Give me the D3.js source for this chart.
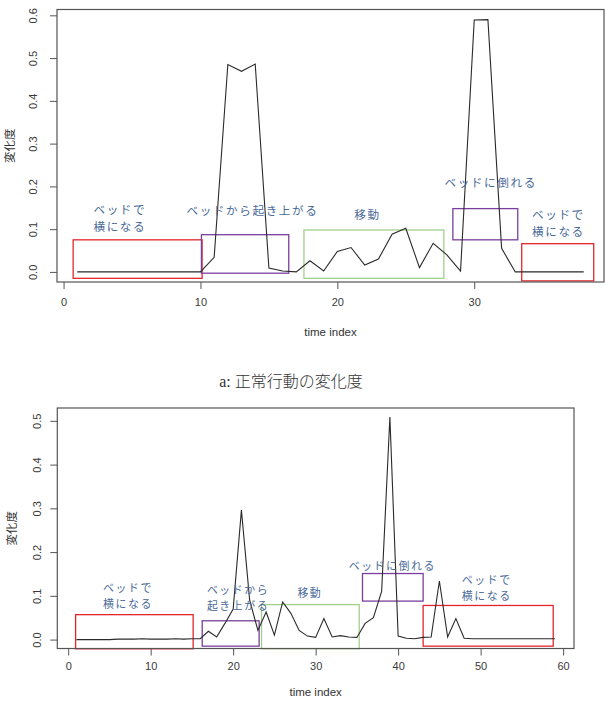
<!DOCTYPE html>
<html>
<head>
<meta charset="utf-8">
<script src="https://cdn.jsdelivr.net/npm/d3@7"></script>
<style>
  body { margin: 0; background: #fff; }
  svg { display: block; }
  .tick text { font-family: 'Liberation Sans', Arial, sans-serif; font-size: 11px; fill: #3a3a3a; }
  .tick line { stroke: #555; }
  .lbl { font-family: 'Noto Sans CJK JP', sans-serif; fill: #4a6a98; letter-spacing: 1.6px; }
</style>
</head>
<body>
<svg id="chart"></svg>
<script>
var width = 605,
    height = 707;

// a: normal behaviour (top), time index 1..38
var topValues = [0, 0, 0, 0, 0, 0, 0, 0, 0, 0,
  0.034, 0.485, 0.469, 0.486, 0.009, 0.002, 0.0, 0.026, 0.002, 0.048,
  0.057, 0.016, 0.030, 0.088, 0.102, 0.010, 0.067, 0.040, 0.002, 0.589,
  0.590, 0.055, 0, 0, 0, 0, 0, 0];
var topYTicks = [0, 0.1, 0.2, 0.3, 0.4, 0.5, 0.6];
var topXTicks = [0, 10, 20, 30];

// bottom panel, time index 1..59
var botValues = [0, 0, 0, 0, 0, 0.001, 0.001, 0.001, 0.002, 0.001,
  0.001, 0.001, 0.002, 0.001, 0.002, 0.002, 0.019, 0.006, 0.037, 0.070,
  0.296, 0.090, 0.021, 0.063, 0.010, 0.086, 0.060, 0.021, 0.008, 0.005,
  0.048, 0.006, 0.009, 0.006, 0.005, 0.037, 0.050, 0.110, 0.509, 0.008,
  0.003, 0.002, 0.005, 0.006, 0.134, 0.006, 0.048, 0.003, 0.002, 0.002,
  0.002, 0.002, 0.002, 0.002, 0.002, 0.002, 0.002, 0.002, 0.002];
var botYTicks = [0, 0.1, 0.2, 0.3, 0.4, 0.5];
var botXTicks = [0, 10, 20, 30, 40, 50, 60];

// activity regions: [x0, x1, y0, y1, kind]
var topRegions = [
  [0.70, 10.12, -0.015, 0.075, 'lie'],
  [10.07, 16.45, -0.003, 0.087, 'rise'],
  [17.56, 27.78, -0.015, 0.098, 'move'],
  [28.44, 33.18, 0.075, 0.148, 'rise'],
  [33.47, 38.73, -0.021, 0.066, 'lie']
];
var botRegions = [
  [0.90, 15.15, -0.021, 0.057, 'lie'],
  [16.25, 23.15, -0.015, 0.043, 'rise'],
  [23.44, 35.28, -0.021, 0.080, 'move'],
  [35.68, 43.03, 0.088, 0.151, 'rise'],
  [43.03, 58.80, -0.015, 0.078, 'lie']
];

// region labels: [x, y, text lines]
var topLabels = [
  [4.11, 0.143, ['ベッドで', '横になる']],
  [13.8, 0.140, ['ベッドから起き上がる']],
  [22.2, 0.131, ['移動']],
  [31.2, 0.206, ['ベッドに倒れる']],
  [36.15, 0.131, ['ベッドで', '横になる']]
];
var botLabels = [
  [7.24, 0.115, ['ベッドで', '横になる']],
  [20.6, 0.110, ['ベッドから', '起き上がる']],
  [29.3, 0.105, ['移動']],
  [39.3, 0.165, ['ベッドに倒れる']],
  [50.75, 0.133, ['ベッドで', '横になる']]
];

var regionColor = { lie: '#e3262b', rise: '#7a3f9d', move: '#a3cf8c' };

var svg = d3.select('#chart')
  .attr('width', width)
  .attr('height', height);

svg.append('rect')
  .attr('width', width)
  .attr('height', height)
  .attr('fill', '#fff');

function drawPanel(cfg) {
  var n = cfg.values.length;
  var xPad = (n - 1) * 0.04;
  var yMax = d3.max(cfg.values), yMin = d3.min(cfg.values);
  var yPad = (yMax - yMin) * 0.04;

  var x = d3.scaleLinear([1 - xPad, n + xPad], [cfg.left, cfg.right]);
  var y = d3.scaleLinear([yMin - yPad, yMax + yPad], [cfg.bottom, cfg.top]);

  var g = svg.append('g');

  // regions behind the line
  g.selectAll('rect.region')
    .data(cfg.regions)
    .join('rect')
    .attr('class', 'region')
    .attr('x', d => x(d[0]))
    .attr('y', d => y(d[3]))
    .attr('width', d => x(d[1]) - x(d[0]))
    .attr('height', d => y(d[2]) - y(d[3]))
    .attr('fill', 'none')
    .attr('stroke', d => regionColor[d[4]])
    .attr('stroke-width', 1.3);

  var line = d3.line()
    .x((d, i) => x(i + 1))
    .y(d => y(d));

  g.append('path')
    .datum(cfg.values)
    .attr('d', line)
    .attr('fill', 'none')
    .attr('stroke', '#2a2a2a')
    .attr('stroke-width', 1.1);

  // labels, one text per line
  var rows = [];
  cfg.labels.forEach(function(d) {
    d[2].forEach(function(t, i) { rows.push({ x: d[0], y: d[1], row: i, text: t }); });
  });
  g.selectAll('text.lbl')
    .data(rows)
    .join('text')
    .attr('class', 'lbl')
    .attr('text-anchor', 'middle')
    .attr('dominant-baseline', 'middle')
    .attr('x', d => x(d.x))
    .attr('y', d => y(d.y) + d.row * cfg.lineGap)
    .style('font-size', cfg.labelSize + 'px')
    .text(d => d.text);

  // plot frame
  g.append('rect')
    .attr('x', cfg.left)
    .attr('y', cfg.top)
    .attr('width', cfg.right - cfg.left)
    .attr('height', cfg.bottom - cfg.top)
    .attr('fill', 'none')
    .attr('stroke', '#555')
    .attr('stroke-width', 1.2);

  var xAxis = g.append('g')
    .attr('transform', 'translate(0,' + cfg.bottom + ')')
    .call(d3.axisBottom(x).tickValues(cfg.xTicks).tickSize(7).tickPadding(cfg.xPadding).tickFormat(d3.format('d')));
  xAxis.select('.domain').remove();

  var yAxis = g.append('g')
    .attr('transform', 'translate(' + cfg.left + ',0)')
    .call(d3.axisLeft(y).tickValues(cfg.yTicks).tickSize(7).tickFormat(d3.format('.1f')));
  yAxis.select('.domain').remove();
  yAxis.selectAll('.tick text')
    .attr('transform', 'rotate(-90)')
    .attr('x', 0)
    .attr('y', -cfg.yLabelOff)
    .attr('dy', null)
    .attr('text-anchor', 'middle')
    .attr('dominant-baseline', 'middle');

  // axis titles
  g.append('text')
    .attr('x', (cfg.left + cfg.right) / 2)
    .attr('y', cfg.xTitleY)
    .attr('text-anchor', 'middle')
    .attr('dominant-baseline', 'middle')
    .style('font-family', "'Liberation Sans', Arial, sans-serif")
    .style('font-size', '11.5px')
    .style('fill', '#333')
    .text('time index');

  g.append('text')
    .attr('transform', 'translate(' + cfg.yTitleX + ',' + (cfg.top + cfg.bottom) / 2 + ') rotate(-90)')
    .attr('text-anchor', 'middle')
    .attr('dominant-baseline', 'middle')
    .style('font-family', "'Noto Sans CJK JP', sans-serif")
    .style('font-size', '11.5px')
    .style('fill', '#333')
    .text('変化度');
}

drawPanel({
  values: topValues, regions: topRegions, labels: topLabels,
  xTicks: topXTicks, yTicks: topYTicks,
  left: 57, right: 604, top: 9.5, bottom: 282,
  xPadding: 9, yLabelOff: 23, xTitleY: 333, yTitleX: 11, lineGap: 17, labelSize: 11.6
});

drawPanel({
  values: botValues, regions: botRegions, labels: botLabels,
  xTicks: botXTicks, yTicks: botYTicks,
  left: 57.3, right: 574, top: 408, bottom: 648.5,
  xPadding: 7, yLabelOff: 19, xTitleY: 693, yTitleX: 13, lineGap: 16, labelSize: 10.9
});

// caption of the top figure
svg.append('text')
  .attr('x', 291)
  .attr('y', 383)
  .attr('text-anchor', 'middle')
  .attr('dominant-baseline', 'middle')
  .style('font-family', "'Liberation Serif', 'Noto Sans CJK JP', serif")
  .style('font-size', '16px')
  .style('font-weight', 300)
  .style('fill', '#333')
  .text('a:  正常行動の変化度');
</script>
</body>
</html>
